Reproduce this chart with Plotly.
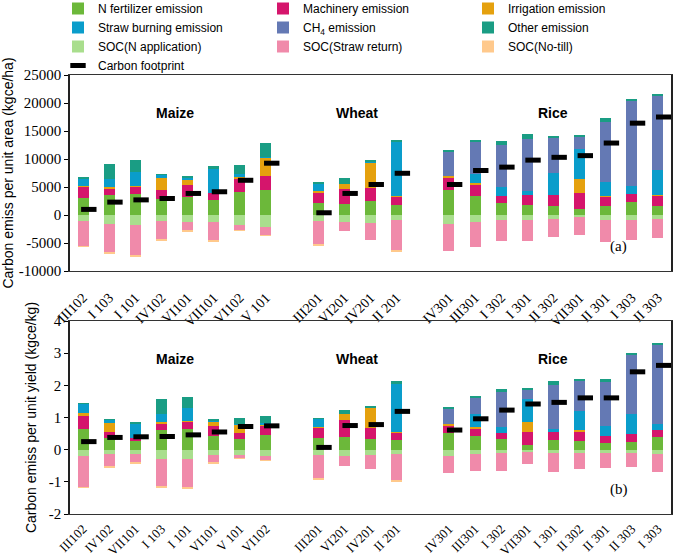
import plotly.graph_objects as go

# ---------------- data ----------------
groups = ["Maize", "Wheat", "Rice"]
group_sizes = [8, 4, 9]

labels_a = ["III102", "I 103", "I 101", "IV102", "VI101", "VII101", "VI102", "V 101",
            "III201", "VI201", "IV201", "II 201",
            "IV301", "III301", "I 302", "I 301", "II 302", "VII301", "II 301", "I 303", "II 303"]
labels_b = ["III102", "IV102", "VII101", "I 103", "I 101", "VI101", "V 101", "VI102",
            "III201", "VI201", "IV201", "II 201",
            "IV301", "III301", "I 302", "VII301", "I 301", "II 302", "II 301", "II 303", "I 303"]

yticks_a = [-10000, -5000, 0, 5000, 10000, 15000, 20000, 25000]
yticks_b = [-2, -1, 0, 1, 2, 3, 4]

# panel (a): kgce/ha
n_fert_a = [3000, 3500, 3800, 2900, 3300, 2700, 4100, 4400, 2100, 2000, 2500, 1700,
            4500, 3450, 2200, 1850, 1550, 1100, 1550, 2300, 1550]
machinery_a = [2000, 1300, 1200, 1500, 2000, 1250, 2500, 2500, 2000, 2700, 2400, 1600,
               2150, 2000, 1250, 1800, 2100, 2850, 1800, 1450, 1900]
irrigation_a = [200, 200, 200, 2200, 1100, 0, 250, 3300, 100, 900, 4500, 150,
                350, 300, 0, 0, 0, 2500, 100, 0, 150]
straw_burn_a = [1400, 1400, 2400, 550, 300, 4300, 500, 150, 1500, 0, 200, 9600,
                0, 1600, 1550, 600, 3900, 5350, 2400, 1400, 4400]
ch4_a = [0, 0, 0, 0, 0, 0, 0, 0, 0, 0, 0, 0,
         4300, 5800, 7550, 9300, 6200, 2150, 10800, 15350, 13300]
other_a = [100, 2700, 2300, 100, 200, 450, 1600, 2500, 100, 1000, 250, 400,
           300, 200, 650, 900, 350, 200, 700, 200, 200]
soc_n_a = [-1100, -1600, -1700, -1100, -1300, -1300, -1700, -2100, -1050, -1250, -1400, -950,
           -1650, -1300, -950, -950, -750, -400, -900, -950, -750]
soc_straw_a = [-4500, -5100, -5500, -3200, -1500, -3300, -1100, -1550, -4200, -1600, -3150, -5300,
               -4850, -4350, -3750, -3750, -3150, -3150, -3950, -3550, -3400]
soc_notill_a = [-100, -150, -150, -300, -300, -150, -50, -50, -200, 0, 0, -200,
                0, 0, 0, 0, 0, 0, 0, 0, 0]
cf_a = [1000, 2300, 2700, 2950, 3850, 4150, 6200, 9250, 400, 3850, 5450, 7450,
        5450, 7950, 8550, 9800, 10300, 10600, 12850, 16400, 17500]

# panel (b): kgce/kg
n_fert_b = [0.63, 0.36, 0.26, 0.61, 0.63, 0.44, 0.33, 0.47, 0.36, 0.40, 0.34, 0.30,
            0.53, 0.42, 0.32, 0.14, 0.29, 0.26, 0.20, 0.23, 0.39]
machinery_b = [0.43, 0.19, 0.10, 0.21, 0.23, 0.29, 0.19, 0.29, 0.33, 0.51, 0.34, 0.22,
               0.22, 0.25, 0.19, 0.40, 0.25, 0.31, 0.22, 0.26, 0.22]
irrigation_b = [0.08, 0.27, 0.0, 0.04, 0.03, 0.15, 0.27, 0.03, 0.01, 0.20, 0.63, 0.04,
                0.04, 0.05, 0.0, 0.32, 0.0, 0.03, 0.0, 0.0, 0.0]
straw_burn_b = [0.28, 0.11, 0.46, 0.25, 0.40, 0.04, 0.02, 0.05, 0.27, 0.0, 0.0, 1.48,
                0.0, 0.38, 0.21, 0.70, 0.09, 0.59, 0.32, 0.61, 0.20]
ch4_b = [0, 0, 0, 0, 0, 0, 0, 0, 0, 0, 0, 0,
         0.48, 0.52, 1.08, 0.31, 1.37, 0.95, 1.36, 1.85, 2.45]
other_b = [0.01, 0.01, 0.01, 0.46, 0.35, 0.01, 0.18, 0.20, 0.01, 0.13, 0.05, 0.11,
           0.05, 0.03, 0.09, 0.03, 0.13, 0.05, 0.09, 0.04, 0.04]
soc_n_b = [-0.20, -0.12, -0.12, -0.30, -0.30, -0.18, -0.18, -0.21, -0.18, -0.20, -0.18, -0.14,
           -0.20, -0.12, -0.11, -0.07, -0.11, -0.09, -0.09, -0.09, -0.14]
soc_straw_b = [-0.97, -0.41, -0.29, -0.85, -0.89, -0.21, -0.09, -0.12, -0.71, -0.30, -0.43, -0.83,
               -0.52, -0.54, -0.55, -0.37, -0.58, -0.50, -0.49, -0.46, -0.55]
soc_notill_b = [-0.01, -0.03, -0.03, -0.02, -0.02, -0.03, -0.02, -0.01, -0.03, 0, 0, -0.03,
                0, 0, 0, 0, 0, 0, 0, 0, 0]
cf_b = [0.25, 0.38, 0.40, 0.41, 0.46, 0.55, 0.72, 0.74, 0.07, 0.75, 0.78, 1.19,
        0.61, 0.96, 1.23, 1.42, 1.47, 1.61, 1.61, 2.42, 2.62]

series_names = ["N fertilizer emission", "Machinery emission", "Irrigation emission",
                "Straw burning emission", "CH<sub>4</sub> emission", "Other emission",
                "SOC(N application)", "SOC(Straw return)", "SOC(No-till)"]
colors = ["#6cb83a", "#d5156c", "#e5a10e", "#0a9dcb", "#6479b4", "#1a9d84",
          "#a9de8d", "#f08aaa", "#ffc98c"]

series_a = [n_fert_a, machinery_a, irrigation_a, straw_burn_a, ch4_a, other_a,
            soc_n_a, soc_straw_a, soc_notill_a]
series_b = [n_fert_b, machinery_b, irrigation_b, straw_burn_b, ch4_b, other_b,
            soc_n_b, soc_straw_b, soc_notill_b]

# ---------------- positions (category index + one empty slot between crops) ----------------
pos = []
for g, size in enumerate(group_sizes):
    for k in range(size):
        pos.append(len(pos) + g)
n_slots = len(pos) + len(group_sizes) - 1
cf_shift = 0.22
pos_cf = [p + cf_shift for p in pos]
group_centers = []
start = 0
for g, size in enumerate(group_sizes):
    group_centers.append((pos[start] + pos[start + size - 1]) / 2)
    start += size

fig = go.Figure()
for i, name in enumerate(series_names):
    fig.add_trace(go.Bar(x=pos, y=series_a[i], name=name, marker_color=colors[i],
                         marker_line_width=0, width=0.42, xaxis="x", yaxis="y"))
fig.add_trace(go.Scatter(x=pos_cf, y=cf_a, name="Carbon footprint", mode="markers",
                         marker=dict(symbol="line-ew", size=11, color="black",
                                     line=dict(width=5, color="black")),
                         xaxis="x", yaxis="y"))
for i, name in enumerate(series_names):
    fig.add_trace(go.Bar(x=pos, y=series_b[i], name=name, marker_color=colors[i],
                         marker_line_width=0, width=0.42, xaxis="x2", yaxis="y2",
                         showlegend=False))
fig.add_trace(go.Scatter(x=pos_cf, y=cf_b, name="Carbon footprint", mode="markers",
                         marker=dict(symbol="line-ew", size=11, color="black",
                                     line=dict(width=5, color="black")),
                         xaxis="x2", yaxis="y2", showlegend=False))

W, H = 675, 560
mt, mb, ml, mr = 75, 46, 70, 4
ph = H - mt - mb
pw = W - ml - mr
dom_a = [(H - mb - 271) / ph, 1.0]
dom_b = [0.0, (H - mb - 321) / ph]
ra = [-10000, 25000]
rb = [-2, 4]
zero_a = dom_a[0] + (0 - ra[0]) / (ra[1] - ra[0]) * (dom_a[1] - dom_a[0])
zero_b = dom_b[0] + (0 - rb[0]) / (rb[1] - rb[0]) * (dom_b[1] - dom_b[0])
xr = [-0.5, n_slots - 0.5]
between = [k + 0.5 for k in range(n_slots - 1)]

tickfont = dict(family="Liberation Serif", size=15, color="black")
xtickfont_a = dict(family="Liberation Serif", size=14, color="black")
xtickfont_b = dict(family="Liberation Serif", size=13, color="black")
titlefont = dict(family="Liberation Sans", size=14, color="black")

common_x = dict(range=xr, tickmode="array", tickvals=pos, tickangle=-45, ticks="",
                showline=True, mirror=True, linecolor="#333", linewidth=1.2,
                showgrid=False, zeroline=False)
common_y = dict(ticks="outside", ticklen=4, tickcolor="black", showline=True, mirror=True,
                linecolor="#222", linewidth=1.5, tickfont=tickfont, showgrid=False,
                zeroline=False, title_font=titlefont, title_standoff=9, tickmode="array")
zero_x = dict(anchor="free", range=xr, tickmode="array", tickvals=between, ticks="outside",
              ticklen=4, tickcolor="black", tickwidth=1.2, showticklabels=False, showline=True,
              linecolor="black", linewidth=1.5, showgrid=False, zeroline=False)

fig.update_layout(
    width=W, height=H, margin=dict(l=ml, r=mr, t=mt, b=mb, autoexpand=False),
    plot_bgcolor="white", paper_bgcolor="white",
    barmode="relative", bargap=0,
    font=dict(family="Liberation Sans", color="black"),
    xaxis=dict(common_x, anchor="y", domain=[0, 1], ticktext=labels_a, ticklabelstandoff=12,
               tickfont=xtickfont_a),
    xaxis2=dict(common_x, anchor="y2", domain=[0, 1], ticktext=labels_b, ticklabelstandoff=1,
                tickfont=xtickfont_b),
    xaxis3=dict(zero_x, overlaying="x", position=zero_a),
    xaxis4=dict(zero_x, overlaying="x2", position=zero_b),
    yaxis=dict(common_y, anchor="x", domain=dom_a, range=ra,
               tickvals=yticks_a, ticktext=[str(v) for v in yticks_a],
               title_text="Carbon emiss per unit area (kgce/ha)"),
    yaxis2=dict(common_y, anchor="x2", domain=dom_b, range=rb,
                tickvals=yticks_b, ticktext=[str(v) for v in yticks_b],
                title_text="Carbon emiss per unit yield (kgce/kg)"),
    legend=dict(orientation="h", xref="paper", yref="paper",
                x=(58 - ml) / pw, y=1 + (mt + 6) / ph,
                xanchor="left", yanchor="top", entrywidth=160, entrywidthmode="pixels",
                font=dict(family="Liberation Sans", size=12, color="black"),
                tracegroupgap=0, itemwidth=30, bgcolor="rgba(0,0,0,0)"),
    showlegend=True,
)

for xref, yref in (("x", "y domain"), ("x2", "y2 domain")):
    for g, name in enumerate(groups):
        fig.add_annotation(x=group_centers[g], y=0.857, xref=xref, yref=yref, text="<b>%s</b>" % name,
                           showarrow=False, font=dict(family="Liberation Sans", size=14, color="black"))
fig.add_annotation(x=20.5, y=0.07, xref="x", yref="y domain", text="(a)", showarrow=False,
                   font=dict(family="Liberation Serif", size=15, color="black"))
fig.add_annotation(x=20.5, y=0.07, xref="x2", yref="y2 domain", text="(b)", showarrow=False,
                   font=dict(family="Liberation Serif", size=15, color="black"))

fig.write_html("out.html", post_script="document.body.style.margin='0';",
               config={"displayModeBar": False})
